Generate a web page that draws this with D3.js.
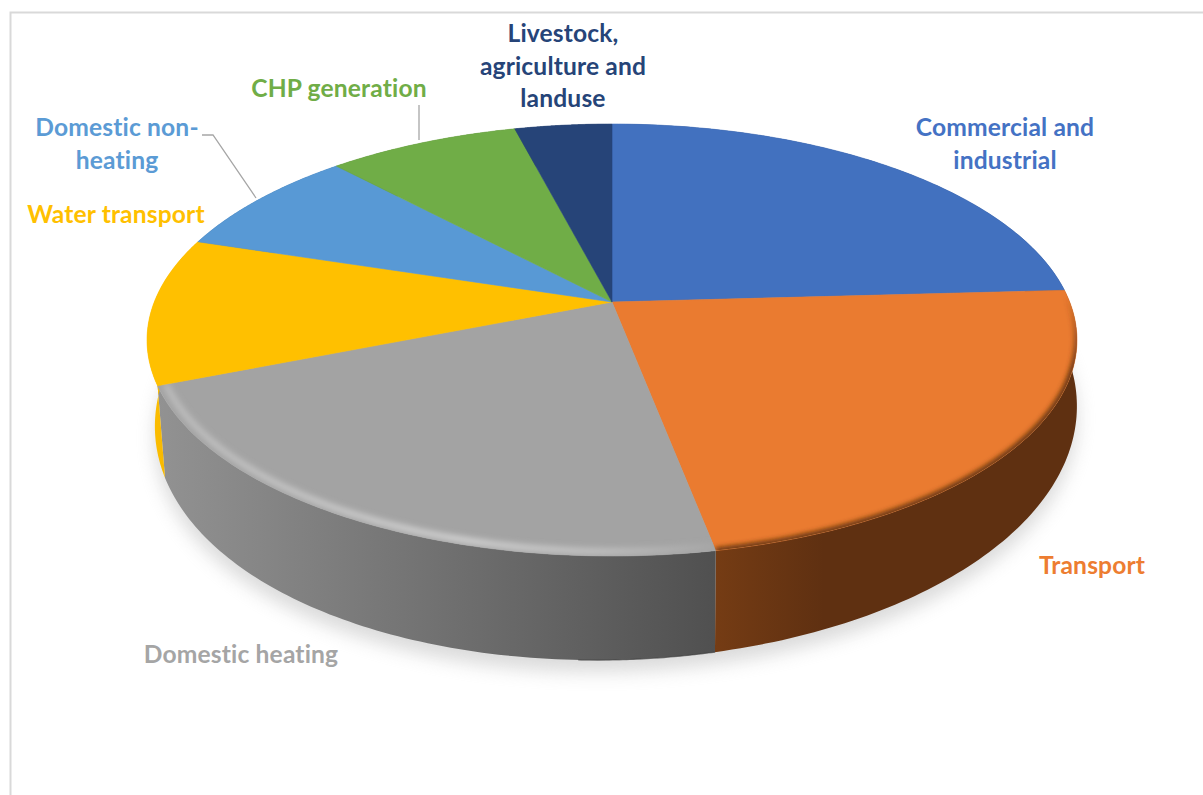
<!DOCTYPE html>
<html>
<head>
<meta charset="utf-8">
<script src="https://cdn.jsdelivr.net/npm/d3@7"></script>
<style>
  html, body { margin: 0; padding: 0; background: #fff; }
  svg { display: block; }
  text { font-family: Lato, "Open Sans", sans-serif; font-weight: 700; font-size: 24.6px; letter-spacing: 0.15px; }
</style>
</head>
<body>
<svg id="chart" width="1203" height="795"></svg>
<script>
// Emission sources, percent share, clockwise from twelve o'clock
const categories = ["Commercial and industrial", "Transport", "Domestic heating", "Water transport",
                    "Domestic non-heating", "CHP generation", "Livestock, agriculture and landuse"];
const shares = [24.1, 22.9, 21.9, 11.0, 8.2, 7.9, 4.0];
const topColours = ["#4271bf", "#ea7b30", "#a3a3a3", "#ffc000", "#5899d5", "#70ad47", "#264478"];
const wallStops = [
  ["#2a4470", "#2a4470"], ["#753c14", "#5f3011"], ["#929292", "#505050"],
  ["#ffc000", "#e5a900"], ["#35608a", "#35608a"], ["#44692b", "#44692b"], ["#162a4a", "#162a4a"]
];

// Text blocks for the slice names
const labelLines = [
  ["Commercial and", "industrial"], ["Transport"], ["Domestic heating"], ["Water transport"],
  ["Domestic non-", "heating"], ["CHP generation"], ["Livestock,", "agriculture and", "landuse"]
];
const labelColours = ["#4472c4", "#ed7d31", "#a5a5a5", "#ffc000", "#5b9bd5", "#70ad47", "#264478"];
const labelAnchors = [[1005, 136], [1092, 574], [241, 663], [116, 223], [117, 136], [339, 97], [563, 42]];
const lineHeight = 32.5;

const svg = d3.select("#chart");
const defs = svg.append("defs");

// Perspective model of the disc: unit circle (u, v) onto the screen
const apex = [612, 302], spreadX = 457.7, spreadY = 209.3, foreshorten = 0.176;
const topPoint = a => {
  const u = Math.sin(a), v = -Math.cos(a), s = 1 / (1 - foreshorten * v);
  return [apex[0] + spreadX * u * s, apex[1] + spreadY * v * s];
};
// The lower rim pulls in on the left and drops further towards the viewer
const bottomPoint = a => {
  const u = Math.sin(a), v = -Math.cos(a), p = topPoint(a);
  return [apex[0] + (p[0] - apex[0]) * (0.9915 + 0.0085 * u), p[1] + 70.4 + 33.6 * v - 9.84 * u];
};
const insetPoint = (a, k) => {
  const p = topPoint(a);
  return [apex[0] + (p[0] - apex[0]) * k, apex[1] + (p[1] - apex[1]) * k];
};

const arcs = d3.pie().sort(null).value(d => d)(shares);
const line = d3.line();
const sample = (a0, a1, n = 90) => d3.range(n + 1).map(i => a0 + (a1 - a0) * i / n);

// Blur filters
const blur = (id, sd) => defs.append("filter").attr("id", id)
  .attr("filterUnits", "userSpaceOnUse")
  .attr("x", 0).attr("y", 0).attr("width", 1203).attr("height", 795)
  .append("feGaussianBlur").attr("stdDeviation", sd);
blur("soft", 9); blur("rim", 3); blur("edge", 2.4);

// Frame
svg.append("path").attr("d", "M10.5,795V12.5H1203")
  .attr("fill", "none").attr("stroke", "#d9d9d9").attr("stroke-width", 2);

// Ground shadow under the disc
const full = sample(0, 2 * Math.PI, 240);
svg.append("path")
  .attr("d", line(full.map(a => { const p = bottomPoint(a); return [p[0], p[1] + 12]; })) + "Z")
  .attr("fill", "#b4b4b4").attr("opacity", 0.48).attr("filter", "url(#soft)");

// Side wall of each slice, only the front half is ever visible
arcs.forEach((d, i) => {
  const as = sample(d.startAngle, d.endAngle);
  const outer = as.map(topPoint), lower = as.map(bottomPoint).reverse();
  const x0 = d3.min(outer.concat(lower), p => p[0]), x1 = d3.max(outer.concat(lower), p => p[0]);
  const gid = "wall" + i;
  const g = defs.append("linearGradient").attr("id", gid)
    .attr("gradientUnits", "userSpaceOnUse")
    .attr("x1", x0).attr("x2", x1).attr("y1", 0).attr("y2", 0);
  g.append("stop").attr("offset", 0).attr("stop-color", wallStops[i][i === 1 ? 0 : 0]);
  g.append("stop").attr("offset", i === 1 ? 0.3 : 1).attr("stop-color", wallStops[i][1]);
  svg.append("path").attr("d", line(outer.concat(lower)) + "Z").attr("fill", `url(#${gid})`);
});

// Top faces
const wedge = d => line([apex].concat(sample(d.startAngle, d.endAngle).map(topPoint))) + "Z";
arcs.forEach((d, i) => {
  svg.append("path").attr("d", wedge(d)).attr("fill", topColours[i])
    .attr("stroke", topColours[i]).attr("stroke-width", 0.6);
  defs.append("clipPath").attr("id", "clip" + i).append("path").attr("d", wedge(d));
});

// Bevel: a pale catch-light on the grey slice, a dark roll-off on the orange one
const greyArc = arcs[2], orangeArc = arcs[1];
const sheen = defs.append("linearGradient").attr("id", "sheen")
  .attr("gradientUnits", "userSpaceOnUse").attr("x1", 160).attr("x2", 716).attr("y1", 0).attr("y2", 0);
[[0, "#c2c2c2"], [0.55, "#dedede"], [0.8, "#c8c8c8"], [1, "#a8a8a8"]].forEach(s =>
  sheen.append("stop").attr("offset", s[0]).attr("stop-color", s[1]));
svg.append("g").attr("clip-path", "url(#clip2)").append("path")
  .attr("d", line(sample(greyArc.startAngle, greyArc.endAngle).map(a => insetPoint(a, 0.982))))
  .attr("fill", "none").attr("stroke", "url(#sheen)").attr("stroke-width", 5).attr("filter", "url(#rim)");

const rollOff = defs.append("linearGradient").attr("id", "rollOff")
  .attr("gradientUnits", "userSpaceOnUse").attr("x1", 0).attr("x2", 0).attr("y1", 295).attr("y2", 370);
[[0, 0], [1, 1]].forEach(s => rollOff.append("stop").attr("offset", s[0])
  .attr("stop-color", "#5f3011").attr("stop-opacity", s[1]));
svg.append("g").attr("clip-path", "url(#clip1)").append("path")
  .attr("d", line(sample(orangeArc.startAngle, orangeArc.endAngle).map(topPoint)))
  .attr("fill", "none").attr("stroke", "url(#rollOff)").attr("stroke-width", 6).attr("filter", "url(#edge)");

// Dark lip along the lower rim of the grey wall
svg.append("path")
  .attr("d", line(sample(greyArc.startAngle + 0.25, greyArc.startAngle, 40).map(bottomPoint)))
  .attr("fill", "none").attr("stroke", "#3c3c3c").attr("stroke-width", 1.2).attr("opacity", 0.6);

// Leader lines
const leaders = [
  [[202, 135], [213, 135], [256, 198]],
  [[419, 105], [419, 140]]
];
leaders.forEach(pts => svg.append("path").attr("d", line(pts))
  .attr("fill", "none").attr("stroke", "#a6a6a6").attr("stroke-width", 1.3));

// Slice names
labelLines.forEach((lines, i) => {
  const t = svg.append("text").attr("text-anchor", "middle").attr("fill", labelColours[i]);
  lines.forEach((s, j) => t.append("tspan")
    .attr("x", labelAnchors[i][0]).attr("y", labelAnchors[i][1] + j * lineHeight).text(s));
});
</script>
</body>
</html>
